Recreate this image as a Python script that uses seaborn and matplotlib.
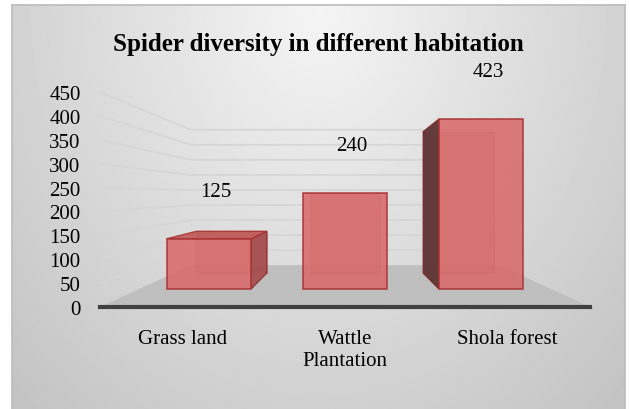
import numpy as np
import pandas as pd
import seaborn as sns
import matplotlib.pyplot as plt
from matplotlib.patches import Polygon
from matplotlib.transforms import Affine2D

# data
habitats = ["Grass land", "Wattle\nPlantation", "Shola forest"]
spiders = [125, 240, 423]
y_ticks = [0, 50, 100, 150, 200, 250, 300, 350, 400, 450]
title = "Spider diversity in different habitation"

df = pd.DataFrame({"habitat": habitats, "spiders": spiders})

sns.set_theme(style="white")
plt.rcParams["font.family"] = ["Liberation Serif", "DejaVu Serif"]

W, H = 630, 410
fig = plt.figure(figsize=(W / 100, H / 100), dpi=100)
fig.patch.set_facecolor("white")

# soft grey gradient panel behind the chart (excel style)
bg = fig.add_axes([12 / W, 0, 613 / W, 404 / H])
gx, gy = np.meshgrid(np.linspace(-1, 1, 400), np.linspace(0, 1, 260))
shade = 0.96 - 0.16 * np.clip(np.hypot(gx * 0.85, gy * 0.9), 0, 1.3)
bg.imshow(shade, cmap="gray", vmin=0, vmax=1, aspect="auto", interpolation="bilinear")
bg.set_xticks([])
bg.set_yticks([])
for s in bg.spines.values():
    s.set_color("#bdbdbd")
bg.spines["bottom"].set_visible(False)

ax = fig.add_axes([100 / W, (H - 308) / H, 490 / W, 215 / H])
ax.patch.set_alpha(0)

sns.barplot(data=df, x="habitat", y="spiders", color="#d86a6a", saturation=1,
            width=0.62, edgecolor="#a93434", linewidth=1.2, alpha=0.88,
            zorder=3, ax=ax)

ax.set_xlim(-0.512, 2.512)
ax.set_ylim(y_ticks[0], y_ticks[-1])
x0, x1 = ax.get_xlim()

# fake 3d: scale toward a vanishing point
vx = (x0 + x1) / 2
vy = 0.525 * y_ticks[-1]
FLOOR_BACK, BAR_FRONT, BAR_BACK = 0.63, 0.84, 0.70


def pt(x, y, s):
    return (vx + s * (x - vx), vy + s * (y - vy))


def persp(s):
    return Affine2D().translate(-vx, -vy).scale(s).translate(vx, vy) + ax.transData


# side wall + back wall gridlines
for v in y_ticks[1:]:
    a = pt(x0, v, FLOOR_BACK)
    b = pt(x1, v, FLOOR_BACK)
    ax.plot([x0, a[0], b[0]], [v, a[1], b[1]], color="#d6d6d6", lw=1.3, zorder=0.5)

# floor
ax.add_patch(Polygon([pt(x0, 0, 1), pt(x1, 0, 1), pt(x1, 0, FLOOR_BACK), pt(x0, 0, FLOOR_BACK)],
                     closed=True, facecolor="#bfbfbf", edgecolor="none", zorder=1))

bars = list(ax.patches)[:len(spiders)]
for p, val in zip(bars, spiders):
    xl, w, h = p.get_x(), p.get_width(), p.get_height()
    xr = xl + w
    F, B = BAR_FRONT, BAR_BACK
    # back face (only its edges show through)
    ax.add_patch(Polygon([pt(xl, 0, B), pt(xr, 0, B), pt(xr, h, B), pt(xl, h, B)],
                         closed=True, facecolor="#c85c5c", edgecolor="#b04040",
                         lw=0.8, alpha=0.35, zorder=2))
    if xl > vx:
        ax.add_patch(Polygon([pt(xl, 0, F), pt(xl, h, F), pt(xl, h, B), pt(xl, 0, B)],
                             closed=True, facecolor="#5e3434", edgecolor="#7a2e2e",
                             lw=1, alpha=0.95, zorder=2.5))
    if xr < vx:
        ax.add_patch(Polygon([pt(xr, 0, F), pt(xr, h, F), pt(xr, h, B), pt(xr, 0, B)],
                             closed=True, facecolor="#a54a4a", edgecolor="#8e3434",
                             lw=1, alpha=0.9, zorder=2.5))
    if h < vy:
        ax.add_patch(Polygon([pt(xl, h, F), pt(xr, h, F), pt(xr, h, B), pt(xl, h, B)],
                             closed=True, facecolor="#c05858", edgecolor="#a93434",
                             lw=1, alpha=0.9, zorder=2.5))
    p.set_transform(persp(F))
    ax.annotate(str(val), xy=pt(xl + w / 2, h, F), xytext=(5, 34),
                textcoords="offset points", ha="center", va="center",
                fontsize=15, color="black")

ax.set_xlabel("")
ax.set_ylabel("")
ax.set_yticks(y_ticks)
ax.tick_params(axis="y", length=0, pad=14, labelsize=15, labelcolor="black")
ax.tick_params(axis="x", length=0, pad=16, labelsize=15, labelcolor="black")
for side in ["left", "right", "top"]:
    ax.spines[side].set_visible(False)
ax.spines["bottom"].set_color("#404040")
ax.spines["bottom"].set_linewidth(3)
ax.spines["bottom"].set_zorder(4)

fig.text(318 / W, 1 - 45 / H, title, ha="center", va="center",
         fontsize=18, fontweight="bold", color="black")

fig.savefig("out.png", dpi=100)
